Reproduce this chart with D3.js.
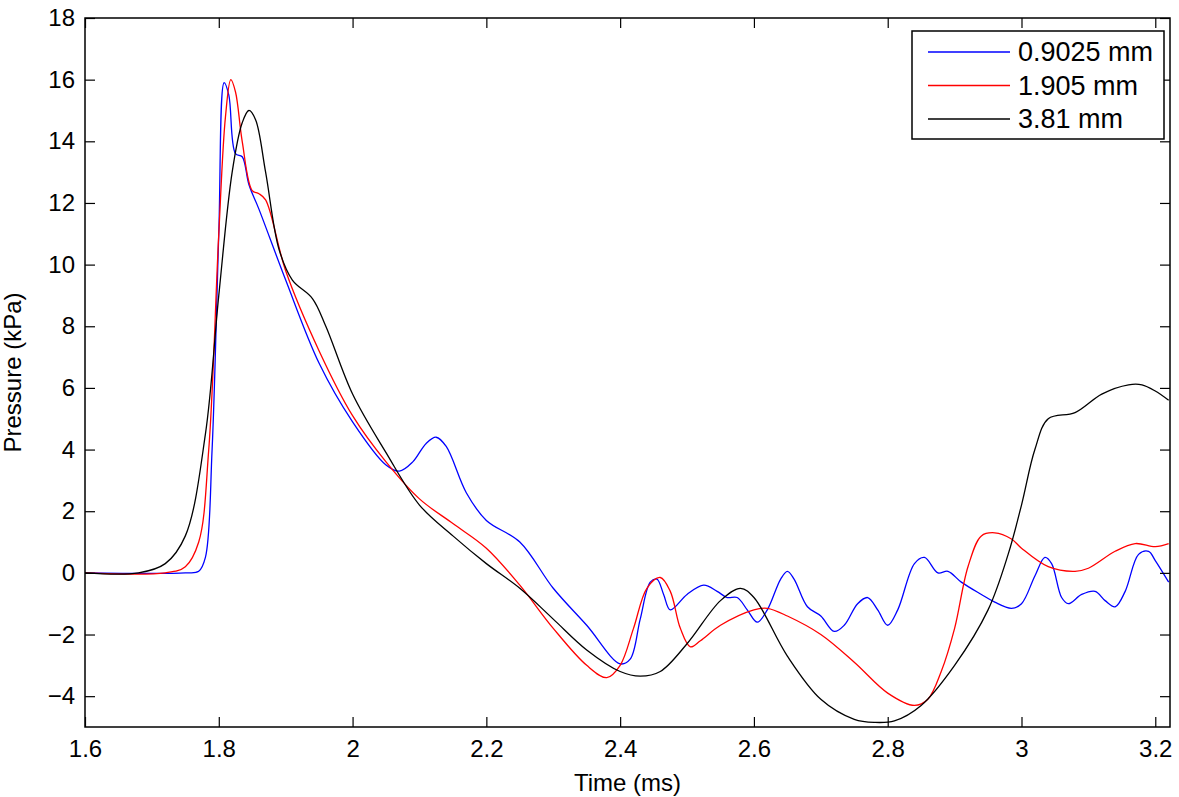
<!DOCTYPE html>
<html><head><meta charset="utf-8">
<script src="https://cdn.jsdelivr.net/npm/d3@7"></script>
<style>body{margin:0;background:#fff}text{font-family:"Liberation Sans",Arial,sans-serif}</style>
</head><body><svg width="1179" height="797"></svg>
<script>
var seriesNames = ["0.9025 mm", "1.905 mm", "3.81 mm"];
var seriesColors = ["#0000ff", "#ff0000", "#000000"];
var xTicks = [1.6, 1.8, 2, 2.2, 2.4, 2.6, 2.8, 3, 3.2];
var yTicks = [-4, -2, 0, 2, 4, 6, 8, 10, 12, 14, 16, 18];

var blue = [[1.6,0],[1.75,0],[1.77,0.05],[1.78,0.5],[1.79,4],[1.80,11],[1.808,15.9],[1.815,15.5],[1.825,13.6],[1.835,13.5],[1.845,12.6],[1.86,11.8],[1.9,9.5],[1.95,6.8],[2.0,4.9],[2.05,3.5],[2.07,3.3],[2.09,3.6],[2.11,4.2],[2.125,4.4],[2.14,4.1],[2.17,2.6],[2.2,1.7],[2.25,1.0],[2.3,-0.5],[2.35,-1.7],[2.4,-2.95],[2.415,-2.8],[2.43,-1.5],[2.445,-0.3],[2.455,-0.2],[2.465,-0.7],[2.475,-1.2],[2.5,-0.7],[2.525,-0.4],[2.545,-0.6],[2.56,-0.8],[2.575,-0.8],[2.59,-1.2],[2.605,-1.6],[2.62,-1.2],[2.64,-0.2],[2.65,0.05],[2.66,-0.2],[2.68,-1.1],[2.7,-1.4],[2.72,-1.9],[2.735,-1.7],[2.755,-1.0],[2.77,-0.8],[2.785,-1.2],[2.8,-1.7],[2.815,-1.2],[2.84,0.3],[2.855,0.5],[2.875,0.0],[2.89,0.05],[2.91,-0.3],[2.94,-0.7],[2.96,-0.95],[2.985,-1.15],[3.0,-1.0],[3.02,-0.1],[3.035,0.5],[3.045,0.3],[3.06,-0.8],[3.07,-1.0],[3.09,-0.7],[3.11,-0.6],[3.125,-0.9],[3.14,-1.1],[3.155,-0.6],[3.175,0.6],[3.19,0.7],[3.2,0.4],[3.22,-0.3]];
var red = [[1.6,0],[1.72,0],[1.75,0.2],[1.77,1],[1.785,4],[1.80,11],[1.81,14.8],[1.818,16.0],[1.825,15.6],[1.835,14],[1.85,12.4],[1.86,12.3],[1.87,12.1],[1.9,9.8],[1.95,7.2],[2.0,5.1],[2.05,3.6],[2.1,2.4],[2.15,1.6],[2.2,0.8],[2.25,-0.4],[2.3,-1.8],[2.35,-3.0],[2.38,-3.4],[2.4,-3.0],[2.42,-1.8],[2.44,-0.5],[2.46,-0.15],[2.475,-0.6],[2.49,-1.8],[2.505,-2.4],[2.52,-2.2],[2.55,-1.7],[2.6,-1.2],[2.62,-1.15],[2.65,-1.4],[2.7,-2.0],[2.75,-2.9],[2.8,-3.9],[2.84,-4.3],[2.86,-4.1],[2.88,-3.2],[2.9,-1.8],[2.92,0.2],[2.94,1.2],[2.96,1.3],[2.985,1.1],[3.0,0.8],[3.04,0.2],[3.08,0.05],[3.1,0.15],[3.14,0.7],[3.17,0.95],[3.2,0.85],[3.22,0.95]];
var black = [[1.6,0],[1.68,0],[1.72,0.3],[1.75,1.2],[1.78,4.5],[1.80,9],[1.82,13],[1.835,14.6],[1.845,15.0],[1.855,14.7],[1.87,13],[1.89,10.5],[1.91,9.5],[1.94,8.9],[1.96,8.0],[2.0,5.8],[2.05,3.9],[2.1,2.2],[2.15,1.2],[2.2,0.3],[2.25,-0.5],[2.3,-1.5],[2.35,-2.5],[2.4,-3.2],[2.43,-3.35],[2.46,-3.2],[2.5,-2.3],[2.55,-0.9],[2.58,-0.5],[2.6,-0.8],[2.65,-2.7],[2.7,-4.1],[2.75,-4.75],[2.78,-4.85],[2.81,-4.8],[2.85,-4.3],[2.9,-3.0],[2.95,-1.2],[2.98,0.6],[3.0,2.2],[3.02,4.0],[3.04,5.0],[3.08,5.2],[3.12,5.8],[3.16,6.1],[3.18,6.1],[3.2,5.9],[3.22,5.6]];
var allSeries = [blue, red, black];

var margin = {top: 18, right: 9, bottom: 70, left: 85};
var width = 1179 - margin.left - margin.right;
var height = 797 - margin.top - margin.bottom;
var fs = 24;

var svg = d3.select("svg");
var g = svg.append("g").attr("transform", `translate(${margin.left},${margin.top})`);

var x = d3.scaleLinear().domain([1.6, 3.222]).range([0, width]);
var y = d3.scaleLinear().domain([-5, 18]).range([height, 0]);

g.append("clipPath").attr("id", "c").append("rect").attr("width", width).attr("height", height);

var line = d3.line().x(d => x(d[0])).y(d => y(d[1])).curve(d3.curveCatmullRom);
allSeries.forEach(function(s, i) {
  g.append("path").datum(s).attr("d", line).attr("fill", "none")
    .attr("stroke", seriesColors[i]).attr("stroke-width", 1.3).attr("clip-path", "url(#c)");
});

// axes with inward ticks, mirrored on top/right
function styleAxis(sel) {
  sel.select(".domain").remove();
  sel.selectAll("line").attr("stroke", "#000").attr("stroke-width", 1.2);
  sel.selectAll("text").attr("font-size", fs).attr("fill", "#000");
}
g.append("g").attr("transform", `translate(0,${height})`)
  .call(d3.axisBottom(x).tickValues(xTicks).tickSize(-10).tickPadding(13).tickFormat(d3.format("")))
  .call(styleAxis);
g.append("g").call(d3.axisTop(x).tickValues(xTicks).tickSize(-10).tickFormat(""))
  .call(styleAxis);
g.append("g")
  .call(d3.axisLeft(y).tickValues(yTicks).tickSize(-10).tickPadding(10).tickFormat(d => d < 0 ? "\u2212" + (-d) : d))
  .call(styleAxis);
g.append("g").attr("transform", `translate(${width},0)`)
  .call(d3.axisRight(y).tickValues(yTicks).tickSize(-10).tickFormat(""))
  .call(styleAxis);
g.append("rect").attr("width", width).attr("height", height).attr("fill", "none")
  .attr("stroke", "#000").attr("stroke-width", 1.5);

g.append("text").attr("x", width / 2).attr("y", height + 64).attr("text-anchor", "middle")
  .attr("font-size", fs).text("Time (ms)");
g.append("text").attr("transform", `translate(-64,${height / 2}) rotate(-90)`).attr("text-anchor", "middle")
  .attr("font-size", fs).text("Pressure (kPa)");

// legend
var lg = svg.append("g").attr("transform", "translate(912,31)");
lg.append("rect").attr("width", 252).attr("height", 108).attr("fill", "#fff")
  .attr("stroke", "#000").attr("stroke-width", 1.5);
seriesNames.forEach(function(n, i) {
  var yy = 21 + i * 33.5;
  lg.append("line").attr("x1", 16).attr("x2", 98).attr("y1", yy).attr("y2", yy)
    .attr("stroke", seriesColors[i]).attr("stroke-width", 1.3);
  lg.append("text").attr("x", 106).attr("y", yy + 9).attr("font-size", 27).text(n);
});
</script></body></html>
